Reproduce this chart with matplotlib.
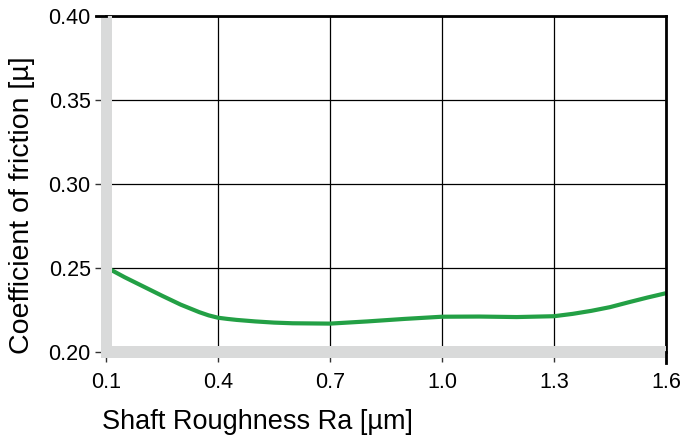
import matplotlib
matplotlib.use("Agg")
import matplotlib.pyplot as plt
from matplotlib.patches import Rectangle
from matplotlib.lines import Line2D

plt.rcParams["font.family"] = ["Liberation Sans", "DejaVu Sans"]

# curve
roughness = [0.10, 0.15, 0.20, 0.25, 0.30, 0.35, 0.375, 0.40, 0.425, 0.45,
             0.50, 0.55, 0.60, 0.70, 0.80, 0.90, 1.00, 1.10, 1.20, 1.30,
             1.35, 1.40, 1.45, 1.50, 1.55, 1.60]
friction = [0.2505, 0.2445, 0.2390, 0.2335, 0.2282, 0.2237, 0.2218, 0.2204,
            0.2197, 0.2191, 0.2182, 0.2175, 0.2171, 0.2169, 0.2182, 0.2197,
            0.2210, 0.2211, 0.2208, 0.2213, 0.2227, 0.2245, 0.2267, 0.2296,
            0.2324, 0.2350]

x_ticks = [0.1, 0.4, 0.7, 1.0, 1.3, 1.6]
x_labels = ["0.1", "0.4", "0.7", "1.0", "1.3", "1.6"]
y_ticks = [0.20, 0.25, 0.30, 0.35, 0.40]
y_labels = ["0.20", "0.25", "0.30", "0.35", "0.40"]

GREEN = "#23a045"
GRAY_BAR = "#d9dada"

fig = plt.figure(figsize=(6.99, 4.42), dpi=100)
ax = fig.add_axes([106 / 699, 1 - 352 / 442, 560 / 699, 336 / 442])

ax.plot(roughness, friction, color=GREEN, lw=3.0, zorder=2,
        solid_capstyle="butt", solid_joinstyle="round")

ax.set_xlim(0.1, 1.6)
ax.set_ylim(0.20, 0.40)
ax.set_xticks(x_ticks)
ax.set_xticklabels(x_labels)
ax.set_yticks(y_ticks)
ax.set_yticklabels(y_labels)
ax.grid(True, color="black", lw=0.9, zorder=1)
ax.set_axisbelow(True)

for side in ("left", "bottom"):
    ax.spines[side].set_visible(False)
for side in ("top", "right"):
    ax.spines[side].set_linewidth(2.0)
    ax.spines[side].set_color("black")

ax.tick_params(axis="y", length=8, width=1.0, color="#333333", pad=3.0,
               labelsize=15.5)
ax.tick_params(axis="x", length=7.5, width=1.0, color="#333333", pad=7.0,
               labelsize=15.5)

# grey bars along the left and bottom edges
bw = 0.03      # ~11 px in x
bh = 0.0066    # ~11 px in y
ax.add_patch(Rectangle((0.1 - 0.0135, 0.2 - bh / 2), bw, 0.2 + bh / 2,
                       facecolor=GRAY_BAR, edgecolor="none", zorder=3,
                       clip_on=False))
ax.add_patch(Rectangle((0.1 - 0.0135, 0.2 - bh / 2), 1.5 + 0.0135, bh,
                       facecolor=GRAY_BAR, edgecolor="none", zorder=3,
                       clip_on=False))
# right border runs down past the axis like a tick
ax.add_line(Line2D([1.6, 1.6], [0.2, 0.2 - 0.0065], color="black", lw=2.0,
                   clip_on=False, zorder=4))
ax.add_line(Line2D([0.1 - 0.028, 0.1], [0.4, 0.4], color="black", lw=2.0,
                   clip_on=False, zorder=4))

ax.set_xlabel("Shaft Roughness Ra [µm]", fontsize=19.5, ha="left")
ax.xaxis.set_label_coords((102 - 106) / 560, (352 - 409) / 336)
ax.set_ylabel("Coefficient of friction [µ]", fontsize=20.5)
ax.yaxis.set_label_coords((35 - 106) / 560, (352 - 205) / 336)

fig.savefig("out.png", dpi=100)
